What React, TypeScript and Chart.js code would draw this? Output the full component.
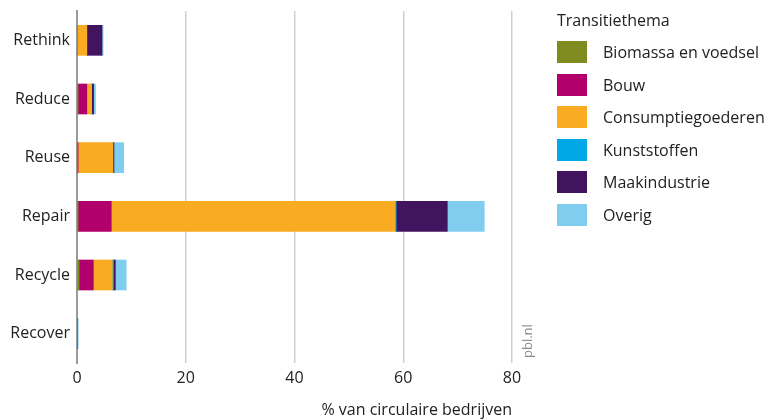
import React, { useEffect, useRef } from "react";
import { Chart, registerables } from "chart.js";

Chart.register(...registerables);

const categories = ["Rethink", "Reduce", "Reuse", "Repair", "Recycle", "Recover"];
const seriesNames = ["Biomassa en voedsel", "Bouw", "Consumptiegoederen", "Kunststoffen", "Maakindustrie", "Overig"];
const biomassa = [0, 0.2, 0, 0.2, 0.4, 0];
const bouw = [0, 1.6, 0.2, 6.1, 2.6, 0];
const consumptie = [1.8, 0.9, 6.4, 52.2, 3.5, 0];
const kunststoffen = [0, 0, 0, 0.2, 0.2, 0.1];
const maakindustrie = [2.8, 0.35, 0.2, 9.4, 0.35, 0];
const overig = [0.2, 0.35, 1.8, 6.8, 2.0, 0.1];
const xTicks = [0, 20, 40, 60, 80];
const colors = ["#7f8a1f", "#b1006b", "#f9ab21", "#00a9e6", "#42145f", "#80cdf0"];

const FONT = "'Open Sans', sans-serif";

export default function App() {
  const ref = useRef<HTMLCanvasElement | null>(null);
  useEffect(() => {
    if (!ref.current) return;
    const values = [biomassa, bouw, consumptie, kunststoffen, maakindustrie, overig];
    const pblPlugin = {
      id: "pbl",
      afterDraw(chart: any) {
        const { ctx, chartArea } = chart;
        ctx.save();
        ctx.translate(chartArea.right + 16, chartArea.bottom - 5);
        ctx.rotate(-Math.PI / 2);
        ctx.fillStyle = "#8a8a8a";
        ctx.font = `13px ${FONT}`;
        ctx.textAlign = "left";
        ctx.textBaseline = "middle";
        ctx.fillText("pbl.nl", 0, 0);
        ctx.restore();
      },
    };
    const chart = new Chart(ref.current, {
      type: "bar",
      data: {
        labels: categories,
        datasets: seriesNames.map((n, i) => ({
          label: n,
          data: values[i],
          backgroundColor: colors[i],
          borderWidth: 0,
          barThickness: 30,
        })),
      },
      options: {
        indexAxis: "y",
        animation: false,
        responsive: true,
        maintainAspectRatio: false,
        layout: { padding: { left: 0, right: 258, top: 11, bottom: 0 } },
        plugins: { legend: { display: false }, tooltip: { enabled: false } },
        scales: {
          x: {
            stacked: true,
            min: 0,
            max: 80,
            afterBuildTicks: (s: any) => {
              s.ticks = xTicks.map((v) => ({ value: v }));
            },
            afterFit: (s: any) => {
              s.height = 57;
            },
            grid: { color: "#cfcfcf", lineWidth: 1.5, drawTicks: false },
            border: { display: false },
            ticks: { color: "#222", font: { family: FONT, size: 16 }, padding: 6 },
            title: {
              display: true,
              text: "% van circulaire bedrijven",
              align: "end",
              color: "#222",
              font: { family: FONT, size: 16 },
              padding: { top: 8, bottom: 0 },
            },
          },
          y: {
            stacked: true,
            afterFit: (s: any) => {
              s.width = 77;
              s.paddingTop = 0;
              s.paddingBottom = 0;
            },
            grid: { display: false, drawTicks: false },
            border: { display: true, color: "#9a9a9a", width: 2 },
            ticks: { color: "#222", font: { family: FONT, size: 16 }, padding: 7 },
          },
        },
      },
      plugins: [pblPlugin],
    });
    return () => chart.destroy();
  }, []);

  return (
    <div style={{ position: "fixed", left: 0, top: 0, width: 770, height: 420, background: "#fff", fontFamily: FONT }}>
      <canvas ref={ref} />
      <div style={{ position: "absolute", left: 557, top: 7, color: "#222", fontSize: 16 }}>
        <div style={{ height: 26, lineHeight: "26px" }}>Transitiethema</div>
        {seriesNames.map((n, i) => (
          <div key={n} style={{ display: "flex", alignItems: "center", height: 32.5, marginTop: i === 0 ? 3 : 0 }}>
            <span style={{ display: "inline-block", width: 30, height: 22, background: colors[i], marginRight: 16 }} />
            <span>{n}</span>
          </div>
        ))}
      </div>
    </div>
  );
}
